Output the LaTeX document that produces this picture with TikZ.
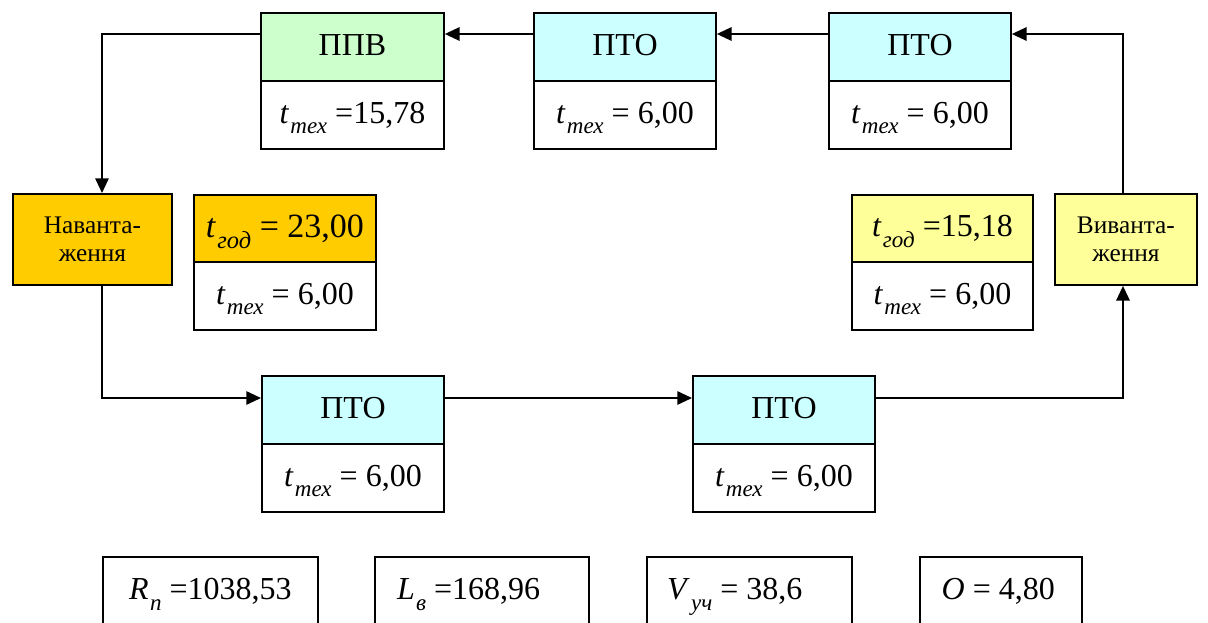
\documentclass[tikz,border=0pt]{standalone}
\usepackage{fontspec}
\setmainfont{Liberation Serif}
\usetikzlibrary{arrows.meta}

\definecolor{cgreen}{HTML}{CCFFCC}
\definecolor{ccyan}{HTML}{CCFFFF}
\definecolor{corange}{HTML}{FFCC00}
\definecolor{cyellow}{HTML}{FFFF99}

% lowered italic subscript, scaled from the current font size
\makeatletter
\newcommand{\qsub}[1]{\kern0.04em\smash{\raisebox{-0.34em}{\fontsize{\fpeval{0.72*\f@size}}{\fpeval{0.8*\f@size}}\selectfont\itshape #1}}}
\makeatother
\newcommand{\fsz}[1]{\fontsize{#1}{#1}\selectfont}
\newcommand{\ttl}[1]{\raisebox{3.5pt}{#1}}

\tikzset{
  cell/.style n args={2}{draw, line width=1.4pt, anchor=north west, inner sep=0pt,
    minimum width=#1*0.75pt, minimum height=#2*0.75pt},
  title/.style={font=\fsz{24pt}},
  val/.style={font=\fsz{24pt}},
  lbl/.style={align=center, font=\fontsize{19pt}{21.5pt}\selectfont},
  arr/.style={draw, line width=1.4pt, -{Triangle[length=11pt,width=10pt]}},
}

\begin{document}
\begin{tikzpicture}[x=0.75pt,y=-0.75pt]
  \path[use as bounding box] (0,0) rectangle (1208,622);
  \clip (0,0) rectangle (1208,622);

  % top row
  \node[cell={183}{68}, fill=cgreen, title] (ppv) at (260,12) {\ttl{ППВ}};
  \node[cell={183}{68}, val] (ppvt) at (260,80) {\textit{t}\qsub{тех} =15,78};
  \node[cell={182}{68}, fill=ccyan, title] (pto2) at (533,12) {\ttl{ПТО}};
  \node[cell={182}{68}, val] (pto2t) at (533,80) {\textit{t}\qsub{тех} = 6,00};
  \node[cell={182}{68}, fill=ccyan, title] (pto3) at (828,12) {\ttl{ПТО}};
  \node[cell={182}{68}, val] (pto3t) at (828,80) {\textit{t}\qsub{тех} = 6,00};

  % loading / unloading
  \node[cell={159}{91}, fill=corange, lbl] (nav) at (12,193) {Наванта-\\ження};
  \node[cell={142}{91}, fill=cyellow, lbl] (vyv) at (1054,193) {Виванта-\\ження};

  \node[cell={182}{67}, fill=corange, font=\fsz{25.5pt}] (lgod) at (193,194) {\textit{t}\qsub{год} = 23,00};
  \node[cell={182}{68}, val] (ltex) at (193,261) {\textit{t}\qsub{тех} = 6,00};
  \node[cell={181}{67}, fill=cyellow, font=\fsz{24pt}] (rgod) at (851,194) {\textit{t}\qsub{год} =15,18};
  \node[cell={181}{68}, val] (rtex) at (851,261) {\textit{t}\qsub{тех} = 6,00};

  % bottom row
  \node[cell={182}{68}, fill=ccyan, title] (ptob1) at (261,375) {\ttl{ПТО}};
  \node[cell={182}{68}, val] (ptob1t) at (261,443) {\textit{t}\qsub{тех} = 6,00};
  \node[cell={182}{68}, fill=ccyan, title] (ptob2) at (692,375) {\ttl{ПТО}};
  \node[cell={182}{68}, val] (ptob2t) at (692,443) {\textit{t}\qsub{тех} = 6,00};

  % summary values
  \node[cell={215}{68}, val] (rn) at (102,556) {\textit{R}\qsub{п} =1038,53};
  \node[cell={214}{68}, val] (lv) at (374,556) {\textit{L}\qsub{в} =168,96\kern20pt};
  \node[cell={205}{68}, val] (vu) at (646,556) {\textit{V}\qsub{уч} = 38,6\kern22pt};
  \node[cell={162}{68}, val] (ob) at (919,556) {\textit{O} = 4,80\kern4pt};

  % connector guides
  \coordinate (lx) at (102,0);
  \coordinate (rx) at (1123,0);
  \coordinate (ty) at (0,34);
  \coordinate (by) at (0,398);

  \draw[arr] (ppv.west |- ty) -| (lx |- nav.north);
  \draw[arr] (pto2.west |- ty) -- (ppv.east |- ty);
  \draw[arr] (pto3.west |- ty) -- (pto2.east |- ty);
  \draw[arr] (rx |- vyv.north) |- (pto3.east |- ty);
  \draw[arr] (lx |- nav.south) |- (ptob1.west |- by);
  \draw[arr] (ptob1.east |- by) -- (ptob2.west |- by);
  \draw[arr] (ptob2.east |- by) -| (rx |- vyv.south);
\end{tikzpicture}
\end{document}
